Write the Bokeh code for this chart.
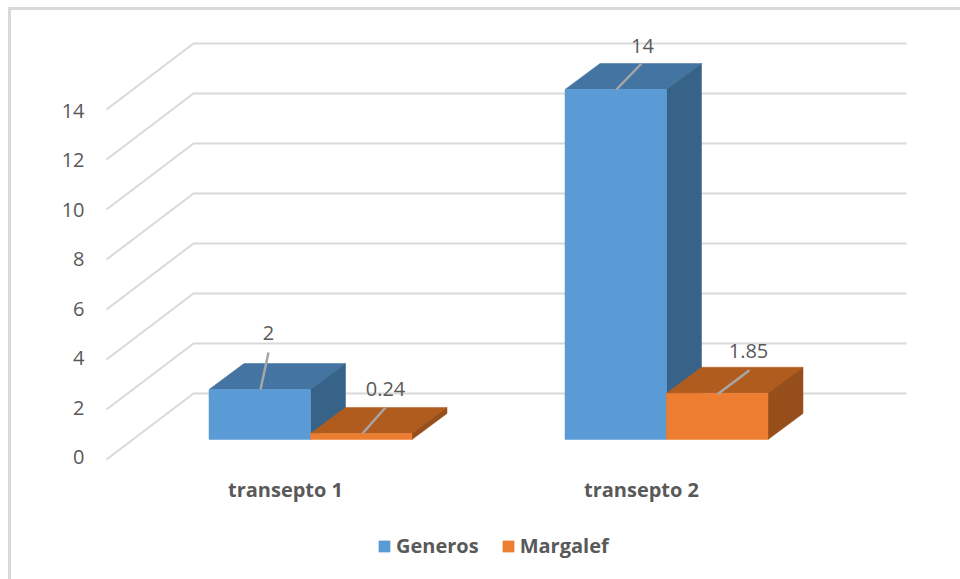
from bokeh.embed import file_html
from bokeh.models import (ColumnDataSource, FixedTicker, Legend, LegendItem,
                          LinearAxis, Range1d)
from bokeh.plotting import figure
from bokeh.resources import INLINE
from bokeh.core.properties import value

# Chart data
categories = ["transepto 1", "transepto 2"]
generos = [2, 14]
margalef = [0.24, 1.85]
y_ticks = [0, 2, 4, 6, 8, 10, 12, 14]
generos_labels = ["2", "14"]
margalef_labels = ["0.24", "1.85"]

# Layout on the page, in pixels
PAGE_W, PAGE_H = 960, 579
BORDER = 3
MARGIN_X, MARGIN_Y = 8, 7
ORIGIN_X = MARGIN_X + BORDER    # where the canvas begins inside its border
ORIGIN_Y = MARGIN_Y + BORDER
FRAME_L, FRAME_T, FRAME_B = 93, 12, PAGE_H
PX_PER_CAT = 356.0
PX_PER_UNIT = 25.0
BASE_PY = 439.0         # where a bar's front face meets zero
CAT0_PX = 285.0

FONT = "Open Sans"
TEXT = "#595959"
GRID = "#D9D9D9"
LEADER = "#A6A6A6"

def dx(px):
    return px / PX_PER_CAT

def dy(px):
    return px / PX_PER_UNIT

x_range = Range1d((FRAME_L - CAT0_PX) / PX_PER_CAT, (PAGE_W - CAT0_PX) / PX_PER_CAT)
y_range = Range1d((BASE_PY - FRAME_B) / PX_PER_UNIT, (BASE_PY - FRAME_T) / PX_PER_UNIT)

p = figure(width=PAGE_W - ORIGIN_X, height=PAGE_H - ORIGIN_Y, x_range=x_range, y_range=y_range,
           frame_width=PAGE_W - FRAME_L, frame_height=FRAME_B - FRAME_T,
           output_backend="svg", toolbar_location=None,
           x_axis_location=None, y_axis_location=None,
           min_border_left=FRAME_L - ORIGIN_X, min_border_right=0,
           min_border_top=FRAME_T - ORIGIN_Y, min_border_bottom=0,
           outline_line_color=None, margin=(MARGIN_Y, 0, 0, MARGIN_X),
           styles={"border-left": f"{BORDER}px solid {GRID}", "border-top": f"{BORDER}px solid {GRID}"})
p.grid.visible = False
p.background_fill_color = "white"
p.border_fill_color = "white"

# Value axis sits on the front edge of the floor, lower than the bars' baseline
AXIS_ZERO_PY = 456.5
AXIS_PX_PER_UNIT = 24.75
p.extra_y_ranges["wall"] = Range1d((AXIS_ZERO_PY - FRAME_B) / AXIS_PX_PER_UNIT,
                                   (AXIS_ZERO_PY - FRAME_T) / AXIS_PX_PER_UNIT)
y_axis = LinearAxis(y_range_name="wall", ticker=FixedTicker(ticks=y_ticks),
                    axis_line_color=None, major_tick_line_color=None, minor_tick_line_color=None,
                    major_label_text_font=FONT, major_label_text_font_size="20px",
                    major_label_text_color=TEXT, major_label_standoff=3)
p.add_layout(y_axis, "left")

# Back wall and floor side lines
WALL_BACK = dy(46)      # back wall zero sits 46 px above the bars' baseline
FLOOR_FRONT_Y = -dy(66)
wall_x0 = dx(193 - CAT0_PX)
wall_x1 = dx(906 - CAT0_PX)
front_x = dx(106 - CAT0_PX)
for t in y_ticks:
    yb = t + WALL_BACK
    p.line([front_x, wall_x0, wall_x1], [yb + FLOOR_FRONT_Y, yb, yb], line_color=GRID, line_width=2)

# Category names under the floor
p.text(list(range(len(categories))), [-dy(50)] * len(categories), text=categories,
       text_font=value(FONT), text_font_size="20px", text_font_style="bold",
       text_color=TEXT, text_align="center", text_baseline="middle")

# Box geometry
BAR_W = dx(101.5)
DEPTH_X = dx(35)
DEPTH_Y = dy(26)
BAR_SHIFT = dx(25)

def box(x0, h, front, top, side):
    x1 = x0 + BAR_W
    top_src = ColumnDataSource(dict(x=[x0, x0 + DEPTH_X, x1 + DEPTH_X, x1],
                                    y=[h, h + DEPTH_Y, h + DEPTH_Y, h]))
    side_src = ColumnDataSource(dict(x=[x1, x1 + DEPTH_X, x1 + DEPTH_X, x1],
                                     y=[0, DEPTH_Y, h + DEPTH_Y, h]))
    p.patch("x", "y", source=top_src, fill_color=top, line_color=top, line_width=0.5)
    p.patch("x", "y", source=side_src, fill_color=side, line_color=side, line_width=0.5)
    return p.quad(left=[x0], right=[x1], bottom=[0], top=[h], fill_color=front,
                  line_color=front, line_width=0.5)

BLUE = ("#5B9BD5", "#4475A2", "#376388")
ORANGE = ("#ED7D31", "#B15C1F", "#964E1A")

blue_r = orange_r = None
for i in range(len(categories)):
    c = i + BAR_SHIFT
    blue_r = box(c - BAR_W, generos[i], *BLUE)
    orange_r = box(c, margalef[i], *ORANGE)

# Data labels with their leader lines
label_x, label_y, label_t = [], [], []
leaders = [
    (generos[0], -50, 0, -42, 37, -42, 57),
    (margalef[0], 52, 0, 75, 26, 75, 45),
    (generos[1], -50, 0, -25, 26, -24, 44),
    (margalef[1], 51, -1, 83, 23, 82, 42),
]
texts = [generos_labels[0], margalef_labels[0], generos_labels[1], margalef_labels[1]]
cats = [0, 0, 1, 1]
for (h, x0p, y0p, x1p, y1p, tx, ty), s, k in zip(leaders, texts, cats):
    c = k + BAR_SHIFT
    p.line([c + dx(x0p), c + dx(x1p)], [h + dy(y0p), h + dy(y1p)], line_color=LEADER, line_width=2.5)
    label_x.append(c + dx(tx))
    label_y.append(h + dy(ty))
    label_t.append(s)
p.text(label_x, label_y, text=label_t, text_font=value(FONT), text_font_size="20px",
       text_color=TEXT, text_align="center", text_baseline="middle")

# Legend under the category names
legend = Legend(items=[LegendItem(label="Generos", renderers=[blue_r]),
                       LegendItem(label="Margalef", renderers=[orange_r])],
                orientation="horizontal", location=(284, 20),
                label_text_font=FONT, label_text_font_size="20px", label_text_font_style="bold",
                label_text_color=TEXT, glyph_width=14, glyph_height=14, label_standoff=5,
                spacing=22, border_line_color=None, background_fill_alpha=0, margin=0, padding=0)
p.add_layout(legend, "center")

open("out.html", "w").write(file_html(p, INLINE))
